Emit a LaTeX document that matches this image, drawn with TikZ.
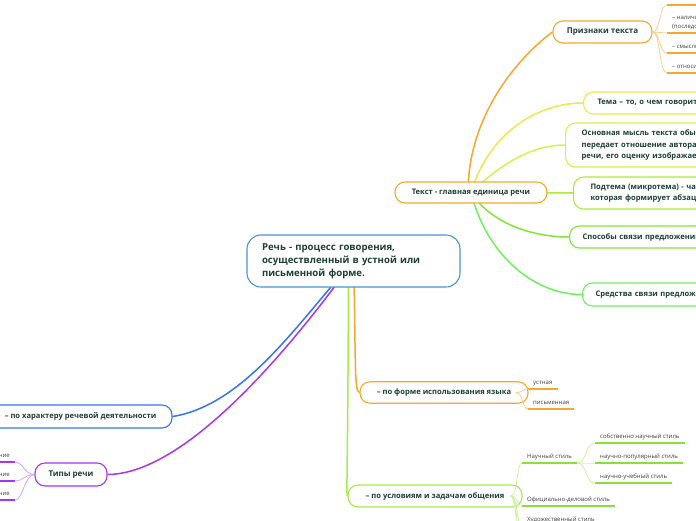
\documentclass[tikz,border=0pt]{standalone}
\usepackage{fontspec}
\setmainfont{Open Sans}
\usetikzlibrary{positioning,backgrounds}

\definecolor{txt}{HTML}{1D3F35}
\definecolor{leafc}{HTML}{404040}
\definecolor{cblue}{HTML}{4A93D6}
\definecolor{lblue}{HTML}{3574F0}
\definecolor{lpurple}{HTML}{A835F0}
\definecolor{lpurple2}{HTML}{D8A4F6}
\definecolor{corange}{HTML}{F7A82C}
\definecolor{corange2}{HTML}{F9CF92}
\definecolor{cyel}{HTML}{F2E64A}
\definecolor{cyelgr}{HTML}{D6F24A}
\definecolor{cgr1}{HTML}{ADEB3A}
\definecolor{cgr2}{HTML}{86E23A}
\definecolor{cgr3}{HTML}{6CF25A}
\definecolor{clgr}{HTML}{A6EA4C}
\definecolor{clgr2}{HTML}{CDF3A0}

\tikzset{
topic/.style={draw=#1, fill=white, rounded corners=10pt, line width=1.1pt, text=txt,
  font=\fontsize{7.6}{11.6}\selectfont\bfseries, inner sep=0pt},
sidebox/.style={anchor=west, align=left, text width=200pt},
branch/.style={draw=#1, line width=1.5pt},
twig/.style={draw=#1, line width=0.8pt},
uline/.style={draw=#1, line width=2pt},
leaf/.style={text=leafc, font=\fontsize{6}{9.5}\selectfont, inner xsep=5pt, inner ysep=3pt,
  text depth=1pt, anchor=south west},
leafl/.style={leaf, anchor=south east},
}

\begin{document}
\begin{tikzpicture}[x=1pt,y=-1pt]
\useasboundingbox (0,0) rectangle (696,520);
\clip (0,0) rectangle (696,520);

% main topics
\node[topic=cblue, rounded corners=14pt, minimum width=213pt, minimum height=52pt, text width=183pt,
  align=left, font=\fontsize{9.6}{13}\selectfont\bfseries] (rech) at (353.5,261)
  {Речь - процесс говорения,\\осуществленный в устной или\\письменной форме.};
\node[topic=corange, minimum width=152pt, minimum height=21pt] (tekst) at (471,192.5) {Текст - главная единица речи};
\node[topic=corange, minimum width=99pt, minimum height=22pt, font=\fontsize{8}{10}\selectfont\bfseries]
  (priznaki) at (602.5,32) {Признаки текста};
\node[topic=cyel, sidebox, minimum height=22pt, inner xsep=14pt] (tema) at (583,103) {Тема – то, о чем говорится в тексте};
\node[topic=cyelgr, sidebox, minimum height=44pt, inner xsep=16pt] (mysl) at (565,145)
  {Основная мысль текста обычно\\передает отношение автора к предмету\\речи, его оценку изображаемого.};
\node[topic=cgr1, sidebox, minimum height=32pt, inner xsep=17pt] (podtema) at (573,193)
  {Подтема (микротема) - часть темы,\\которая формирует абзац};
\node[topic=cgr2, sidebox, minimum height=22pt, inner xsep=13pt] (sposoby) at (569,237) {Способы связи предложений в тексте};
\node[topic=cgr3, sidebox, minimum height=23pt, inner xsep=13pt] (sredstva) at (582,294.5) {Средства связи предложений};
\node[topic=corange, minimum width=168pt, minimum height=21.5pt] (forma) at (444,392.5) {– по форме использования языка};
\node[topic=clgr, minimum width=174pt, minimum height=22pt] (uslov) at (435,496) {– по условиям и задачам общения};
\node[topic=lblue, minimum width=183pt, minimum height=23pt] (harakter) at (80.5,416.5) {– по характеру речевой деятельности};
\node[topic=lpurple, minimum width=72pt, minimum height=23pt, font=\fontsize{8}{10}\selectfont\bfseries]
  (tipy) at (71,474.5) {Типы речи};

% leaves
\coordinate (pr0) at (667,5);
\node[leaf, align=left] (pr1) at (667,33) {– наличие темы и основной мысли\\(последовательность изложения)};
\node[leaf] (pr2) at (667,53) {– смысловая цельность};
\node[leaf] (pr3) at (667,73) {– относительная законченность};
\node[leaf] (ustn) at (528,389) {устная};
\node[leaf] (pism) at (528,409) {письменная};
\node[leaf] (nauch) at (522,463) {Научный стиль};
\node[leaf] (sobst) at (595,443) {собственно научный стиль};
\node[leaf] (popul) at (595,463) {научно-популярный стиль};
\node[leaf] (ucheb) at (595,483) {научно-учебный стиль};
\node[leaf] (ofic) at (522,506) {Официально-деловой стиль};
\node[leaf] (hud) at (522,526) {Художественный стиль};
\coordinate (st1) at (522,546);
\coordinate (st2) at (522,566);
\node[leafl] (povest) at (15,462) {повествование};
\node[leafl] (opis) at (15,481) {описание};
\node[leafl] (rassu) at (15,500) {рассуждение};

\begin{scope}[on background layer]
\fill[white] (0,0) rectangle (696,520);
\draw[branch=lblue] (rech.center) .. controls (300,320) and (245,405) .. (harakter.east);
\draw[branch=lpurple] (rech.center) .. controls (300,335) and (190,474) .. (tipy.east);
\draw[branch=corange] (rech.center) .. controls (356,360) and (354,392.5) .. (forma.west);
\draw[branch=clgr] ([xshift=-5pt]rech.center) .. controls (348,470) and (346,496) .. (uslov.west);
\draw[branch=corange] ([xshift=-3pt]tekst.center) .. controls (468,110) and (525,52) .. (priznaki.west);
\draw[branch=cyel] (tekst.center) .. controls (490,130) and (540,103) .. (tema.west);
\draw[branch=cyelgr] (tekst.center) .. controls (505,160) and (535,145) .. (mysl.west);
\draw[branch=cgr1] (tekst.center) -- (podtema.west);
\draw[branch=cgr2] (tekst.center) .. controls (490,222) and (530,237) .. (sposoby.west);
\draw[branch=cgr3] (tekst.center) .. controls (485,250) and (530,294.5) .. (sredstva.west);
\end{scope}

% underlines
\draw[uline=corange] (pr0) -- ++(40,0);
\foreach \n in {pr1,pr2,pr3,ustn,pism}
  \draw[uline=corange] (\n.south west) -- (\n.south east);
\foreach \n in {nauch,sobst,popul,ucheb,ofic,hud}
  \draw[uline=cgr2] (\n.south west) -- (\n.south east);
\foreach \n in {povest,opis,rassu}
  \draw[uline=lpurple] (\n.south east) -- (\n.south west);

% twigs
\foreach \n in {pr0,pr1.south west,pr2.south west,pr3.south west}
  \draw[twig=corange2] (priznaki.east) .. controls +(8,0) and +(-8,0) .. (\n);
\foreach \n in {ustn,pism}
  \draw[twig=corange2] ([xshift=-13pt]forma.east) .. controls +(8,0) and +(-6,0) .. (\n.south west);
\foreach \n in {nauch.south west,ofic.south west,hud.south west,st1,st2}
  \draw[twig=clgr2] ([xshift=-12pt]uslov.east) .. controls +(8,0) and +(-6,0) .. (\n);
\foreach \n in {sobst,popul,ucheb}
  \draw[twig=clgr2] (nauch.south east) .. controls +(10,0) and +(-10,0) .. (\n.south west);
\foreach \n in {povest,opis,rassu}
  \draw[twig=lpurple2] (tipy.west) .. controls +(-10,0) and +(8,0) .. (\n.south east);
\end{tikzpicture}
\end{document}
